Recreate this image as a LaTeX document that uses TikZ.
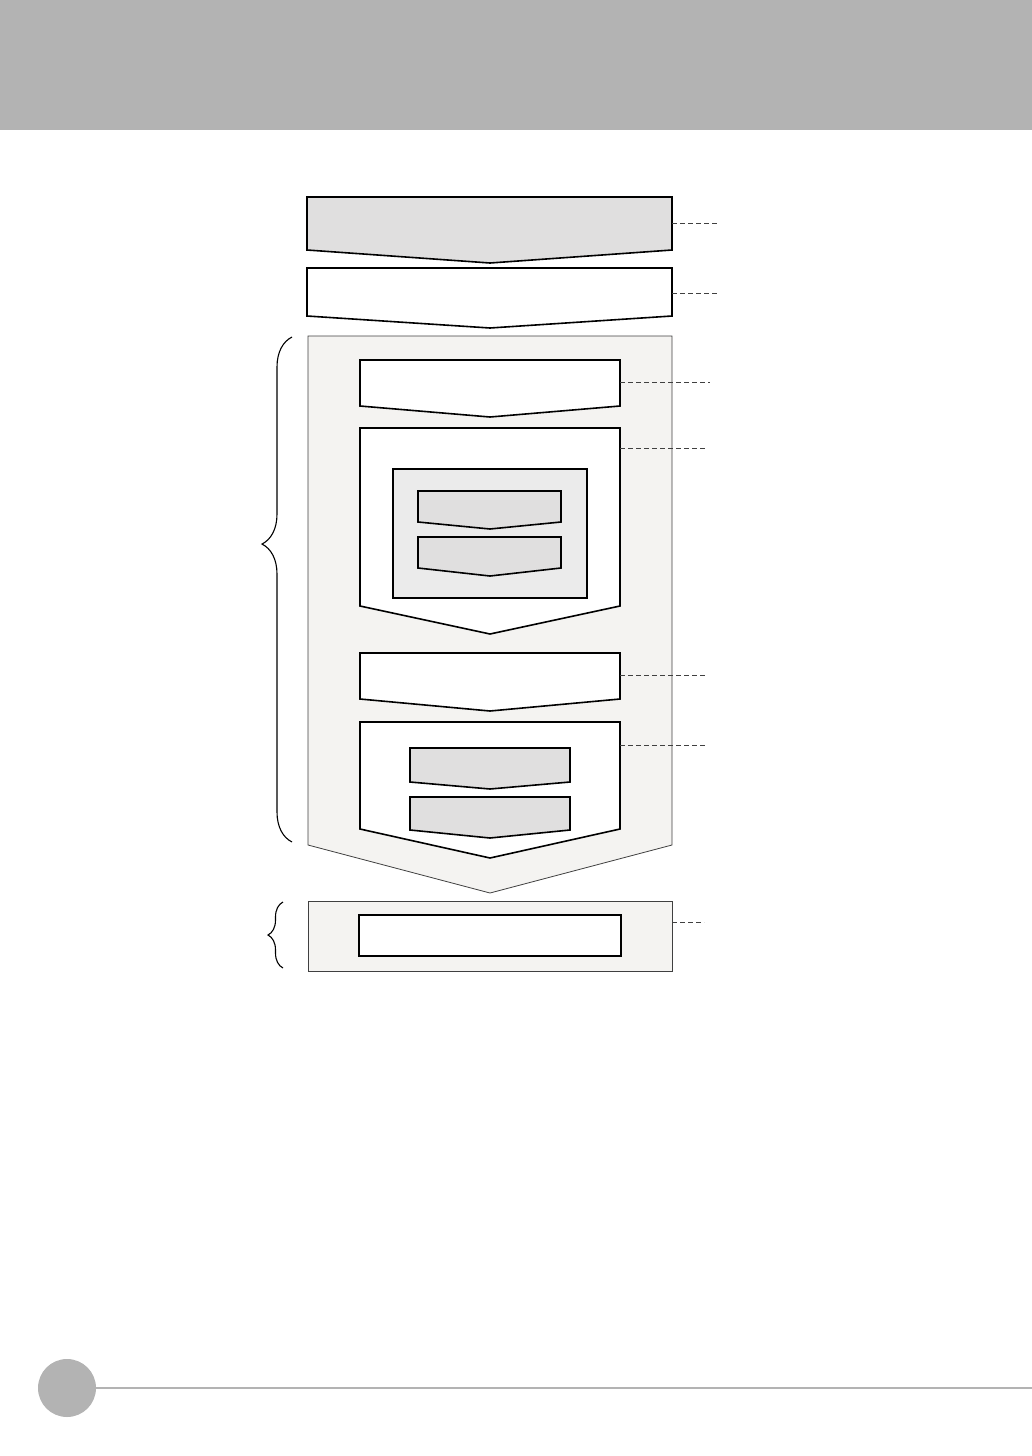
\documentclass[tikz,border=0pt]{standalone}
\usepackage{tikz}
\usetikzlibrary{decorations.pathreplacing}

\definecolor{bandgray}{HTML}{B3B3B3}
\definecolor{boxgray}{HTML}{E0DFDF}
\definecolor{panelgray}{HTML}{F4F3F1}
\definecolor{innergray}{HTML}{EBEBEB}
\definecolor{leadgray}{HTML}{404040}

\tikzset{
  stage/.style={draw=black,line width=1.6pt,line join=miter},
  panel/.style={draw=leadgray,line width=0.8pt,fill=panelgray},
  leader/.style={draw=leadgray,dashed,line width=0.9pt,dash pattern=on 5pt off 3pt},
  grp/.style 2 args={decorate,decoration={brace,amplitude=#1,aspect=#2},line width=1.1pt}
}

\begin{document}
\begin{tikzpicture}[x=1pt,y=-1pt]
   \useasboundingbox (0,0) rectangle (1032,1456);
   % header band and footer
   \fill[bandgray] (0,0) rectangle (1032,130);
   \fill[bandgray] (67,1388) circle (29);
   \draw[bandgray,line width=2.4pt] (96,1388) -- (1032,1388);

   % top stages
   \draw[stage,fill=boxgray] (307,197) -- (672,197) -- (672,250) -- (490,263) -- (307,250) -- cycle;
   \coordinate (s1) at (672,223); \coordinate (s1e) at (717,223);
   \draw[stage,fill=white] (307,268) -- (672,268) -- (672,316) -- (490,328) -- (307,316) -- cycle;
   \coordinate (s2) at (672,293); \coordinate (s2e) at (717,293);

   % main panel
   \draw[panel] (308,336) -- (672,336) -- (672,845) -- (490,893) -- (308,845) -- cycle;
   \draw[stage,fill=white] (360,360) -- (620,360) -- (620,406) -- (490,417) -- (360,406) -- cycle;
   \coordinate (s3) at (620,382); \coordinate (s3e) at (710,382);
   \draw[stage,fill=white] (360,428) -- (620,428) -- (620,606) -- (490,634) -- (360,606) -- cycle;
   \coordinate (s4) at (620,448); \coordinate (s4e) at (707,448);
   \draw[stage,fill=innergray] (393,469) rectangle (587,598);
   \draw[stage,fill=boxgray] (418,491) -- (561,491) -- (561,522) -- (490,529) -- (418,522) -- cycle;
   \draw[stage,fill=boxgray] (418,537) -- (561,537) -- (561,568) -- (490,576) -- (418,568) -- cycle;
   \draw[stage,fill=white] (360,653) -- (620,653) -- (620,699) -- (490,711) -- (360,699) -- cycle;
   \coordinate (s5) at (620,675); \coordinate (s5e) at (706,675);
   \draw[stage,fill=white] (360,722) -- (620,722) -- (620,829) -- (490,858) -- (360,829) -- cycle;
   \coordinate (s6) at (620,745); \coordinate (s6e) at (706,745);
   \draw[stage,fill=boxgray] (410,748) -- (570,748) -- (570,782) -- (490,789) -- (410,782) -- cycle;
   \draw[stage,fill=boxgray] (410,797) -- (570,797) -- (570,830) -- (490,838) -- (410,830) -- cycle;

   % bottom panel
   \draw[panel] (308,901) rectangle (672,971);
   \draw[stage,fill=white] (359,915) rectangle (621,956);
   \coordinate (s7) at (672,922); \coordinate (s7e) at (704,922);

   % leaders
   \foreach \s in {s1,s2,s3,s4,s5,s6,s7}
      \draw[leader] (\s) -- (\s e);

   % braces
   \coordinate (b1a) at (292,842); \coordinate (b1b) at (292,337);
   \draw[grp={30pt}{0.59}] (b1a) -- (b1b);
   \coordinate (b2a) at (283,968); \coordinate (b2b) at (283,902);
   \draw[grp={15pt}{0.5}] (b2a) -- (b2b);
\end{tikzpicture}
\end{document}
